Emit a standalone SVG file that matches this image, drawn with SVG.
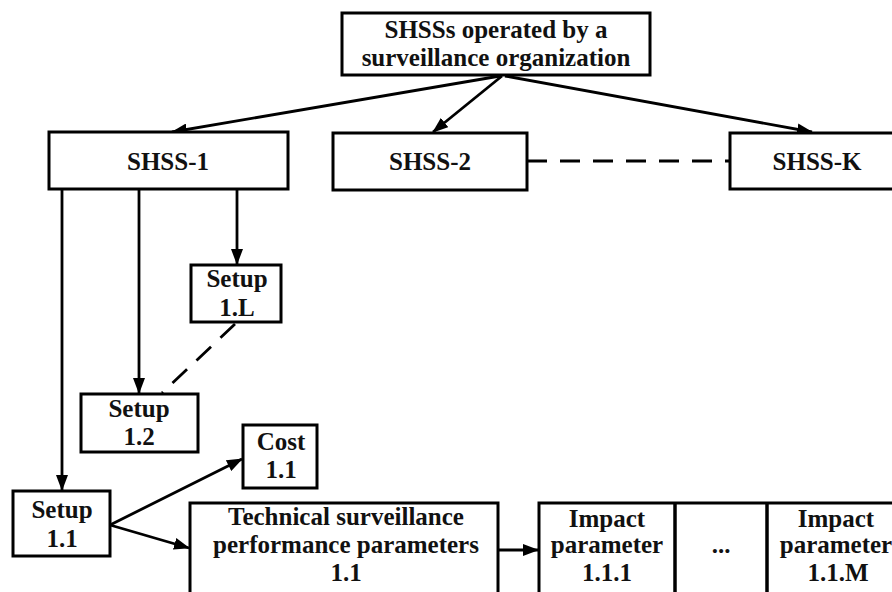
<svg xmlns="http://www.w3.org/2000/svg" width="892" height="592" viewBox="0 0 892 592">
<style>
.box{fill:#fff;stroke:#000;stroke-width:3}
.t{font-family:"Liberation Serif","Times New Roman",serif;font-weight:bold;font-size:25px;fill:#111;text-anchor:middle}
.c{stroke:#000;stroke-width:2.8;fill:none}
.d{stroke:#000;stroke-width:2.8;fill:none;stroke-dasharray:20 13}
</style>
<defs>
<marker id="ah" markerWidth="16" markerHeight="12" refX="15" refY="6" orient="auto" markerUnits="userSpaceOnUse">
<path d="M0,0 L16,6 L0,12 Z" fill="#000"/>
</marker>
</defs>
<rect width="892" height="592" fill="#fff"/>
<g id="connectors">
<line class="c" x1="500" y1="76" x2="172" y2="132" marker-end="url(#ah)"/>
<line class="c" x1="502" y1="76" x2="433" y2="132" marker-end="url(#ah)"/>
<line class="c" x1="505" y1="76" x2="812" y2="132" marker-end="url(#ah)"/>
<line class="d" x1="527" y1="161" x2="730" y2="161"/>
<line class="c" x1="62" y1="189" x2="62" y2="490" marker-end="url(#ah)"/>
<line class="c" x1="139" y1="189" x2="139" y2="393" marker-end="url(#ah)"/>
<line class="c" x1="237" y1="189" x2="237" y2="264" marker-end="url(#ah)"/>
<line class="d" x1="235" y1="324" x2="162" y2="393"/>
<line class="c" x1="110" y1="525" x2="242" y2="459" marker-end="url(#ah)"/>
<line class="c" x1="110" y1="525" x2="189" y2="548" marker-end="url(#ah)"/>
<line class="c" x1="498" y1="550" x2="538" y2="550" marker-end="url(#ah)"/>
</g>
<g id="top">
<rect class="box" x="342" y="13" width="308" height="62"/>
<text class="t" x="496" y="38">SHSSs operated by a</text>
<text class="t" x="496" y="66">surveillance organization</text>
</g>
<g id="shss1">
<rect class="box" x="49" y="132" width="239" height="57"/>
<text class="t" x="168" y="170">SHSS-1</text>
</g>
<g id="shss2">
<rect class="box" x="333" y="133" width="194" height="57"/>
<text class="t" x="430" y="170">SHSS-2</text>
</g>
<g id="shssk">
<rect class="box" x="730" y="133" width="175" height="56"/>
<text class="t" x="817" y="170">SHSS-K</text>
</g>
<g id="setup1L">
<rect class="box" x="191" y="265" width="90" height="57"/>
<text class="t" x="237" y="287">Setup</text>
<text class="t" x="237" y="316">1.L</text>
</g>
<g id="setup12">
<rect class="box" x="81" y="394" width="117" height="58"/>
<text class="t" x="139" y="417">Setup</text>
<text class="t" x="139" y="445">1.2</text>
</g>
<g id="setup11">
<rect class="box" x="13" y="491" width="97" height="65"/>
<text class="t" x="62" y="518">Setup</text>
<text class="t" x="62" y="547">1.1</text>
</g>
<g id="cost11">
<rect class="box" x="243" y="425" width="74" height="63"/>
<text class="t" x="281" y="450">Cost</text>
<text class="t" x="281" y="478">1.1</text>
</g>
<g id="tech">
<rect class="box" x="190" y="503" width="308" height="100"/>
<text class="t" x="346" y="525">Technical surveillance</text>
<text class="t" x="346" y="553">performance parameters</text>
<text class="t" x="346" y="581">1.1</text>
</g>
<g id="impact">
<rect class="box" x="539" y="503" width="370" height="100"/>
<line class="c" x1="675" y1="503" x2="675" y2="603" style="stroke-width:3.5"/>
<line class="c" x1="767" y1="503" x2="767" y2="603" style="stroke-width:3.5"/>
<text class="t" x="607" y="527">Impact</text>
<text class="t" x="607" y="553">parameter</text>
<text class="t" x="607" y="581">1.1.1</text>
<text class="t" x="721" y="553">...</text>
<text class="t" x="836" y="527">Impact</text>
<text class="t" x="836" y="553">parameter</text>
<text class="t" x="838" y="581">1.1.M</text>
</g>
</svg>
